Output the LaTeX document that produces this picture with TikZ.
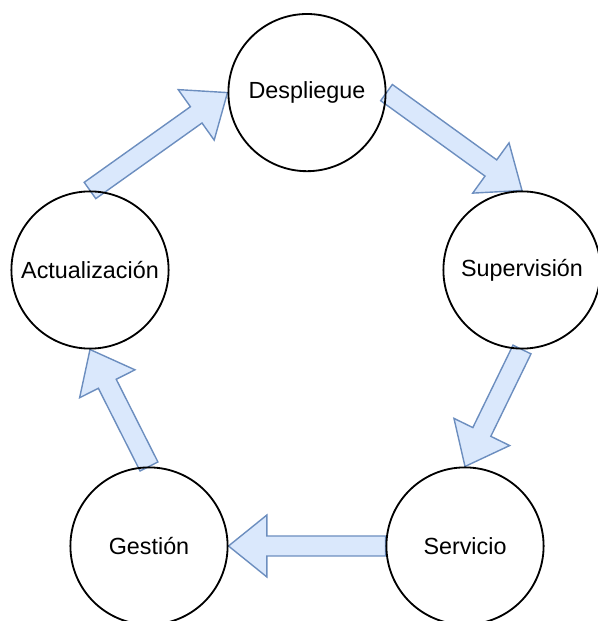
\documentclass[tikz,border=0pt]{standalone}
\usepackage{fontspec}
\setmainfont{Liberation Sans}
\usetikzlibrary{calc,backgrounds}

\definecolor{arrowfill}{HTML}{DAE8FC}
\definecolor{arrowline}{HTML}{6C8EBF}

\tikzset{
  stage/.style={circle, draw=black, line width=1.3pt, minimum size=3.93cm, inner sep=0pt,
    font=\fontsize{16.6}{20}\selectfont},
  blockbody/.style={fill=arrowfill, draw=arrowline, line width=1pt, line join=miter}
}

% block arrow from #1 to #2
\newcommand{\blockarrow}[2]{%
  \path ($(#2)!0.96cm!(#1)$) coordinate (hb);
  \draw[blockbody] ($(#1)!0.25cm!90:(#2)$) -- ($(hb)!0.25cm!-90:(#1)$) -- ($(hb)!0.775cm!-90:(#1)$)
    -- (#2) -- ($(hb)!0.775cm!90:(#1)$) -- ($(hb)!0.25cm!90:(#1)$) -- ($(#1)!0.25cm!-90:(#2)$) -- cycle;
}

\begin{document}
\begin{tikzpicture}
\useasboundingbox (0,0) rectangle (14.95,15.525);

\node[stage] (despliegue) at (7.675,13.21) {Despliegue};
\node[stage] (actualizacion) at (2.25,8.775) {Actualización};
\node[stage] (supervision) at (13.05,8.775) {Supervisión};
\node[stage] (gestion) at (3.725,1.875) {Gestión};
\node[stage] (servicio) at (11.625,1.875) {Servicio};

%cycle arrows
\begin{pgfonlayer}{background}
\blockarrow{actualizacion.north}{despliegue.west}
\blockarrow{despliegue.east}{supervision.north}
\blockarrow{supervision.south}{servicio.north}
\blockarrow{servicio.west}{gestion.east}
\blockarrow{gestion.north}{actualizacion.south}
\end{pgfonlayer}

\end{tikzpicture}
\end{document}
